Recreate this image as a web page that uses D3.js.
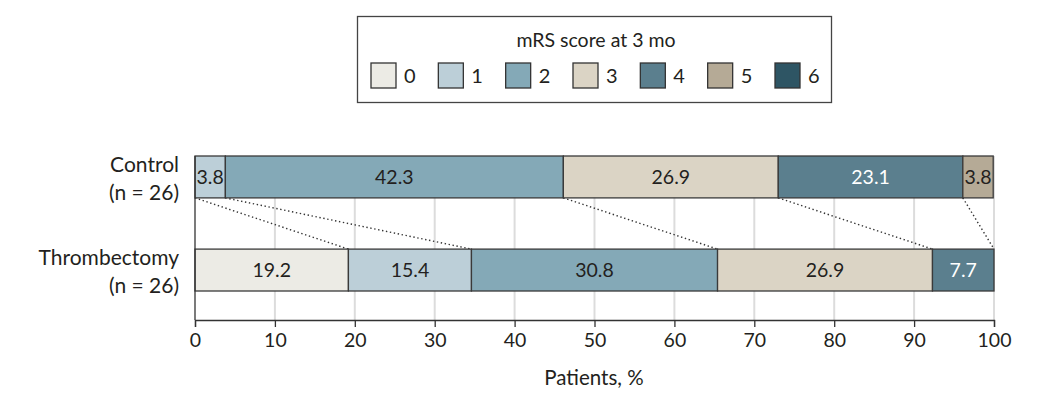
<!DOCTYPE html>
<html><head><meta charset="utf-8">
<script src="https://cdn.jsdelivr.net/npm/d3@7"></script>
<style>
body{margin:0;background:#fff;}
text{font-family:Lato,"Noto Sans",sans-serif;fill:#231f20;}
</style></head>
<body>
<svg id="chart" width="1040" height="397"></svg>
<script>
const groups = ["Control", "Thrombectomy"];
const groupN = ["(n = 26)", "(n = 26)"];
const scores = ["0","1","2","3","4","5","6"];
const controlValues = [0, 3.8, 42.3, 26.9, 23.1, 3.8, 0];
const thrombectomyValues = [19.2, 15.4, 30.8, 26.9, 7.7, 0, 0];
const colors = ["#ecebe5","#bccfd8","#84a9b7","#dbd4c5","#5b7f8e","#b5aa96","#2e5564"];
const textColors = ["#231f20","#231f20","#231f20","#231f20","#ffffff","#231f20","#ffffff"];
const xTicks = [0,10,20,30,40,50,60,70,80,90,100];
const legendTitle = "mRS score at 3 mo";
const axisTitle = "Patients, %";

const svg = d3.select("#chart");
const x = d3.scaleLinear().domain([0,100]).range([195,994]);
const y = d3.scaleBand().domain(groups).range([156,291]).paddingInner(0.55).paddingOuter(0);
const valuesByGroup = [controlValues, thrombectomyValues];
const axisY = 320;

// gridlines
svg.append("g").selectAll("line").data(xTicks.slice(1)).join("line")
  .attr("x1",d=>x(d)).attr("x2",d=>x(d)).attr("y1",156).attr("y2",axisY)
  .attr("stroke","#dcdcdc").attr("stroke-width",2);

// cumulative
const cums = valuesByGroup.map(v=>{let s=0;return v.map(d=>{const a=s;s+=d;return [a,s];});});

// dotted connectors
const conn = scores.map((s,i)=>({c:cums[0][i][1], t:cums[1][i][1]})).filter(d=>Math.abs(d.c-d.t)>0.5);
svg.append("g").selectAll("line").data(conn).join("line")
  .attr("x1",d=>x(d.c)).attr("y1",y("Control")+y.bandwidth())
  .attr("x2",d=>x(d.t)).attr("y2",y("Thrombectomy"))
  .attr("stroke","#333").attr("stroke-width",1.4).attr("stroke-dasharray","1.4,2.6");

// bars
groups.forEach((g,gi)=>{
  const segs = valuesByGroup[gi].map((v,i)=>({v,i,x0:cums[gi][i][0],x1:cums[gi][i][1]})).filter(d=>d.v>0);
  const gg = svg.append("g");
  gg.selectAll("rect").data(segs).join("rect")
    .attr("x",d=>x(d.x0)).attr("width",d=>x(d.x1)-x(d.x0))
    .attr("y",y(g)).attr("height",y.bandwidth())
    .attr("fill",d=>colors[d.i]).attr("stroke","#3a3a3a").attr("stroke-width",1.3);
  gg.selectAll("text").data(segs).join("text")
    .attr("x",d=>(x(d.x0)+x(d.x1))/2).attr("y",y(g)+y.bandwidth()/2+7)
    .attr("text-anchor","middle").style("font-size","19.5px")
    .style("fill",d=>textColors[d.i]).text(d=>d.v.toFixed(1));
  const lab = svg.append("text").attr("text-anchor","end").style("font-size","21px");
  lab.append("tspan").attr("x",179).attr("y",y(g)+y.bandwidth()/2-5).text(g);
  lab.append("tspan").attr("x",179).attr("y",y(g)+y.bandwidth()/2+23).text(groupN[gi]);
});

// left axis line
svg.append("line").attr("x1",x(0)).attr("x2",x(0)).attr("y1",156).attr("y2",axisY)
  .attr("stroke","#333").attr("stroke-width",1.3);

// x axis
const xAxis = d3.axisBottom(x).tickValues(xTicks).tickSize(7).tickPadding(6).tickFormat(d3.format("d"));
const ax = svg.append("g").attr("transform",`translate(0,${axisY})`).call(xAxis);
ax.select(".domain").attr("stroke","#333").attr("stroke-width",1.3);
ax.selectAll(".tick line").attr("stroke","#333").attr("stroke-width",1.3);
ax.selectAll(".tick text").style("font-family","Lato,'Noto Sans',sans-serif").style("font-size","19.5px").attr("fill","#231f20");

svg.append("text").attr("x",594).attr("y",385).attr("text-anchor","middle")
  .style("font-size","20.5px").text(axisTitle);

// legend
svg.append("rect").attr("x",357.5).attr("y",16.5).attr("width",474).attr("height",86)
  .attr("fill","#fff").attr("stroke","#444").attr("stroke-width",1.3);
svg.append("text").attr("x",596).attr("y",47).attr("text-anchor","middle")
  .style("font-size","19.5px").text(legendTitle);
const lx = d3.scalePoint().domain(scores).range([371,775]);
const lg = svg.append("g").selectAll("g").data(scores).join("g")
  .attr("transform",d=>`translate(${lx(d)},63)`);
lg.append("rect").attr("width",25).attr("height",25)
  .attr("fill",(d,i)=>colors[i]).attr("stroke","#333").attr("stroke-width",1.3);
lg.append("text").attr("x",33).attr("y",20).style("font-size","20px").text(d=>d);
</script>
</body></html>
